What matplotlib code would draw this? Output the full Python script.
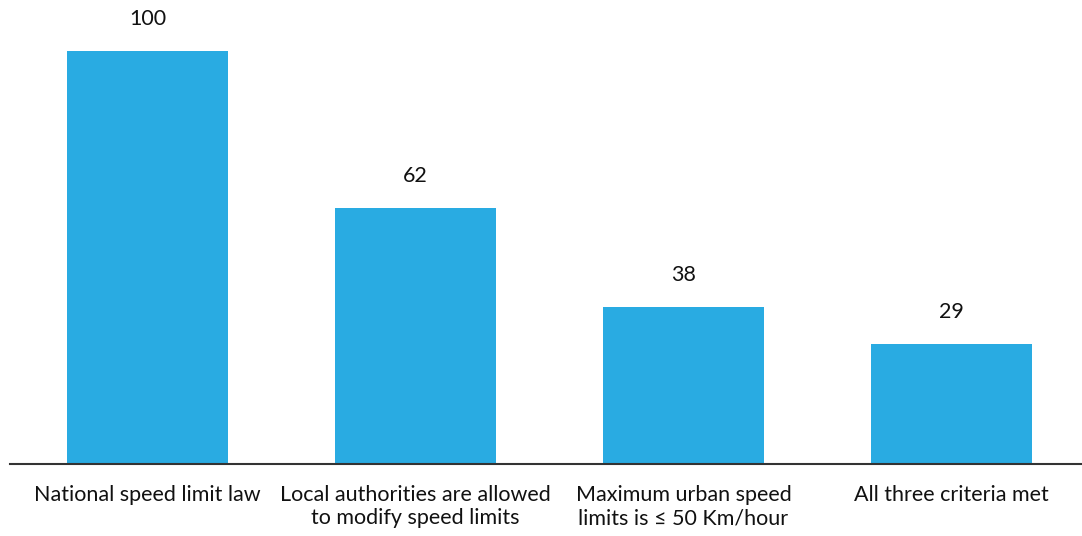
import matplotlib
matplotlib.use('Agg')
import matplotlib.pyplot as plt

categories = ['National speed limit law',
              'Local authorities are allowed\nto modify speed limits',
              'Maximum urban speed\nlimits is \u2264 50 Km/hour',
              'All three criteria met']
values = [100, 62, 38, 29]

BAR_COLOR = '#29ABE2'

plt.rcParams['font.family'] = ['Lato', 'DejaVu Sans']

fig = plt.figure(figsize=(10.82, 5.36), dpi=100)
ax = fig.add_axes([10 / 1082, 72 / 536, 1 - 10 / 1082, 1 - 72 / 536])

x = list(range(len(categories)))
ax.bar(x, values, width=0.6, color=BAR_COLOR)
for xi, v in zip(x, values):
    ax.annotate(str(v), (xi, v), xytext=(0, 16), textcoords='offset points',
                ha='center', va='bottom', fontsize=15.5, color='#111111')

ax.set_xlim(-0.513, 3.487)
ax.set_ylim(0, 112.3)
ax.set_xticks(x)
ax.set_xticklabels(categories, fontsize=15.5, color='#111111', linespacing=1.22)
ax.tick_params(axis='x', length=0, pad=15)
ax.set_yticks([])
for side in ['top', 'right', 'left']:
    ax.spines[side].set_visible(False)
ax.spines['bottom'].set_color('#333333')
ax.spines['bottom'].set_linewidth(1.5)

fig.savefig('out.png', dpi=100)
